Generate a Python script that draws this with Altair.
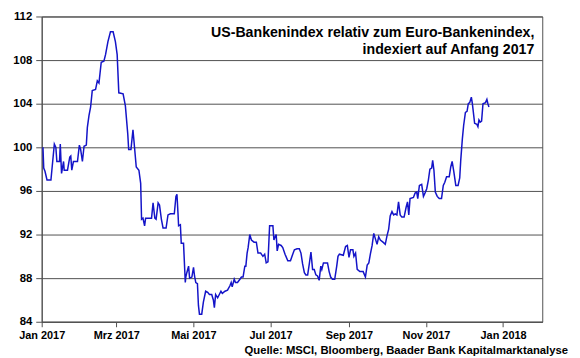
import altair as alt
import pandas as pd

# Day offsets from 2017-01-01 and index values
day_offset = [
    1, 1.6, 2.6, 4.2, 7.3, 10.0, 11.2, 12.0, 14.1, 14.7, 15.7, 17.3, 17.8, 20.4, 22.2, 23.0,
    23.8, 25.1, 28.3, 29.8, 30.8, 32.2, 33.5, 35.3, 36.1, 37.4, 38.7, 40.0, 42.6, 44.0, 45.3,
    47.1, 49.2, 50.5, 52.4, 54.4, 56.5, 58.3, 59.7, 61.0, 64.4, 66.2, 68.1, 68.8, 70.6, 72.2,
    73.2, 74.8, 76.9, 78.3, 79.0, 80.1, 81.4, 82.2, 86.9, 88.1, 89.5, 90.5, 92.1, 93.2, 94.7,
    96.0, 98.4, 99.9, 101.8, 104.9, 106.2, 107.0, 107.8, 108.3, 109.7, 110.4, 112.2, 113.6,
    114.0, 114.8, 116.2, 117.0, 118.8, 120.1, 120.9, 121.9, 123.2, 124.0, 124.8, 126.6, 127.9,
    129.7, 131.3, 132.7, 134.5, 135.8, 136.6, 137.6, 139.2, 140.5, 141.8, 142.9, 145.0, 147.0,
    148.9, 149.9, 150.7, 152.3, 153.3, 154.9, 156.8, 158.0, 159.3, 160.7, 161.5, 162.5, 163.3,
    164.6, 165.9, 168.0, 169.8, 171.1, 173.2, 175.0, 176.4, 177.6, 179.0, 180.3, 182.9, 183.7,
    184.7, 185.5, 186.3, 187.4, 189.4, 190.7, 192.5, 194.7, 196.8, 198.6, 199.9, 202.0, 203.8,
    205.1, 206.4, 207.8, 209.0, 210.4, 211.7, 213.0, 214.3, 215.6, 216.9, 218.2, 219.5, 220.8,
    221.6, 222.9, 226.1, 227.4, 228.6, 230.0, 231.8, 233.4, 234.4, 235.5, 238.6, 240.4, 241.8,
    243.1, 244.3, 246.2, 247.0, 248.3, 249.6, 251.7, 254.3, 256.1, 257.5, 258.8, 260.0, 261.4,
    262.7, 264.0, 265.3, 266.6, 267.9, 270.0, 271.8, 273.2, 274.5, 275.7, 277.1, 278.4, 279.7,
    281.0, 282.3, 283.6, 284.9, 286.7, 288.3, 289.4, 290.4, 291.4, 294.1, 295.4, 296.7, 297.5,
    298.8, 300.6, 302.0, 303.2, 304.6, 305.9, 307.1, 308.5, 309.3, 310.3, 311.4, 312.9, 314.5,
    316.3, 317.7, 318.9, 320.3, 322.4, 323.6, 324.7, 326.0, 327.6, 329.4, 330.7, 331.5, 332.8,
    333.8, 335.2, 336.5, 337.5, 338.6, 339.9, 340.7, 342.5, 344.3, 345.1, 345.9, 346.9, 348.0,
    349.1, 351.1, 352.2, 353.0, 353.8,
]
index_value = [
    100.0, 98.1, 97.8, 97.0, 97.0, 100.3, 100.0, 98.7, 98.7, 100.3, 97.6, 98.7, 97.9, 97.9, 99.1, 99.2,
    97.9, 98.7, 98.7, 100.2, 99.8, 98.7, 100.1, 100.2, 101.8, 102.9, 103.7, 105.2, 105.3, 106.1, 105.9,
    107.8, 107.9, 108.5, 109.7, 110.6, 110.6, 109.7, 108.5, 105.0, 104.9, 103.8, 101.2, 99.8, 99.8, 101.6,
    100.3, 98.2, 97.9, 96.7, 93.4, 93.5, 92.8, 93.5, 93.5, 94.9, 93.5, 93.4, 94.9, 94.7, 93.4,
    92.6, 92.6, 93.8, 93.9, 93.9, 95.5, 95.7, 94.0, 92.8, 92.9, 91.2, 91.2, 87.6,
    88.1, 88.5, 89.1, 88.0, 88.1, 89.0, 88.2, 87.6, 87.5, 85.5, 84.7, 84.7, 85.8,
    86.8, 86.7, 86.5, 86.5, 86.0, 85.3, 86.5, 86.2, 86.5, 86.8, 86.6, 86.8, 86.9,
    87.3, 87.6, 87.2, 87.9, 87.6, 87.6, 87.9, 88.1, 88.1, 89.1, 89.1, 90.3, 90.8,
    92.0, 91.5, 91.3, 91.3, 90.3, 90.3, 90.0, 90.2, 89.4, 89.5, 92.8, 92.8, 91.5,
    91.8, 92.0, 90.5, 91.1, 91.0, 90.8, 90.2, 89.6, 89.6, 90.2, 90.6, 90.7, 90.7,
    90.3, 89.3, 88.5, 88.3, 88.3, 89.3, 90.4, 88.8, 88.8, 88.3, 88.2, 87.8, 89.1,
    88.8, 89.4, 89.4, 88.6, 88.1, 87.9, 87.9, 89.1, 90.0, 90.2, 90.1, 90.9, 91.0,
    89.9, 90.6, 90.6, 90.0, 90.3, 88.8, 88.6, 88.6, 88.1, 89.2, 89.4, 90.2, 91.0,
    92.1, 91.6, 91.1, 91.8, 91.5, 91.3, 91.1, 91.9, 92.5, 93.7, 94.1, 93.8, 93.9,
    93.8, 95.0, 93.8, 93.6, 93.6, 94.5, 95.0, 93.8, 95.3, 95.4, 95.8, 95.9, 95.3,
    96.5, 96.6, 95.5, 95.8, 96.2, 97.0, 98.0, 98.1, 98.8, 97.9, 95.9, 95.5, 95.3,
    95.3, 96.5, 96.8, 97.3, 97.3, 98.2, 98.7, 97.8, 96.5, 96.5, 97.2, 98.8, 100.8,
    102.0, 103.2, 103.3, 104.0, 104.1, 104.6, 104.0, 102.2, 102.1, 101.9, 102.5, 102.3, 102.4,
    104.0, 104.1, 104.4, 104.0, 103.7,
]

y_ticks = [84, 88, 92, 96, 100, 104, 108, 112]
x_tick_dates = ["2017-01-01", "2017-03-01", "2017-05-01", "2017-07-01",
                "2017-09-01", "2017-11-01", "2018-01-01"]
month_names = ["Jan", "Feb", "Mrz", "Apr", "Mai", "Jun", "Jul", "Aug", "Sep", "Okt", "Nov", "Dez"]
title_lines = ["US-Bankenindex relativ zum Euro-Bankenindex,", "indexiert auf Anfang 2017"]
source_text = "Quelle: MSCI, Bloomberg, Baader Bank Kapitalmarktanalyse"

start = pd.Timestamp("2017-01-01")
dates = start + pd.to_timedelta(day_offset, unit="D")
df = pd.DataFrame({"date": dates, "value": index_value})

FONT = "Liberation Sans"
GRID = "#505050"

x_values = [alt.DateTime(year=int(d[:4]), month=int(d[5:7]), date=int(d[8:10])) for d in x_tick_dates]
months_js = "[" + ",".join("'%s'" % m for m in month_names) + "]"

line = alt.Chart(df).mark_line(color="#1414C8", strokeWidth=1.5).encode(
    x=alt.X(
        "date:T",
        scale=alt.Scale(domain=[alt.DateTime(year=2017, month=1, date=1),
                                alt.DateTime(year=2018, month=2, date=1)]),
        axis=alt.Axis(
            title=None, values=x_values, grid=False,
            labelExpr=months_js + "[month(datum.value)] + ' ' + year(datum.value)",
            tickSize=5, labelPadding=3, tickColor=GRID, domainColor=GRID,
            labelFont=FONT, labelFontWeight="bold", labelFontSize=11, labelColor="black",
            labelFlush=False, labelOverlap=False,
        ),
    ),
    y=alt.Y(
        "value:Q",
        scale=alt.Scale(domain=[84, 112], nice=False, zero=False),
        axis=alt.Axis(
            title=None, values=y_ticks, grid=True, gridColor=GRID, gridOpacity=1,
            tickSize=6, labelPadding=4, tickColor=GRID, domainColor=GRID,
            labelFont=FONT, labelFontWeight="bold", labelFontSize=11.5, labelColor="black",
        ),
    ),
)

title_df = pd.DataFrame({"t": title_lines, "row": [0, 1]})
title = alt.Chart(title_df).mark_text(
    align="right", baseline="alphabetic", font=FONT, fontWeight="bold", fontSize=14.3, color="black"
).encode(
    text="t:N",
    x=alt.value(497),
    y=alt.value(21),
).transform_filter("datum.row == 0")

title2 = alt.Chart(title_df).mark_text(
    align="right", baseline="alphabetic", font=FONT, fontWeight="bold", fontSize=14.3, color="black"
).encode(
    text="t:N",
    x=alt.value(497),
    y=alt.value(38),
).transform_filter("datum.row == 1")

source = alt.Chart(pd.DataFrame({"t": [source_text]})).mark_text(
    align="right", baseline="alphabetic", font=FONT, fontWeight="bold", fontSize=11.4, color="black"
).encode(
    text="t:N",
    x=alt.value(531),
    y=alt.value(341),
)

chart = alt.layer(line, title, title2, source).properties(
    width=505, height=308,
    autosize=alt.AutoSizeParams(type="none"),
    padding={"left": 34, "top": 7, "right": 30, "bottom": 35},
    background="white",
).configure_view(stroke=GRID, strokeWidth=1)

chart.save("out.html", embed_options={"renderer": "svg", "actions": False})
